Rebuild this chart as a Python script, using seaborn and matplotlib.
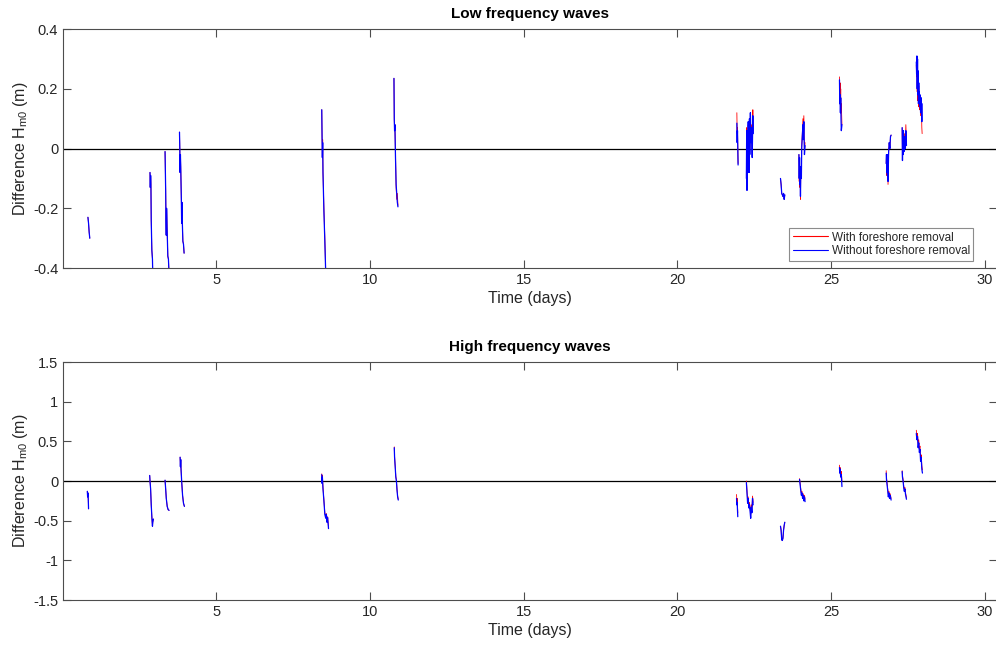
import numpy as np
import pandas as pd
import matplotlib
matplotlib.use("Agg")
import matplotlib.pyplot as plt
from matplotlib.lines import Line2D
import seaborn as sns

# ---------------------------------------------------------------- data
# Each inner list is one measurement burst (time in days, difference in m).
lf_time = [
    [0.82, 0.84, 0.86, 0.88],
    [2.84, 2.85, 2.86, 2.87, 2.88, 2.90, 2.92, 2.93],
    [3.33, 3.35, 3.36, 3.37, 3.38, 3.40, 3.42, 3.44, 3.46],
    [3.80, 3.81, 3.82, 3.83, 3.84, 3.86, 3.87, 3.88, 3.89, 3.91, 3.93, 3.95],
    [8.43, 8.44, 8.45, 8.46, 8.47, 8.50, 8.53, 8.56],
    [10.78, 10.79, 10.80, 10.81, 10.83, 10.85, 10.87, 10.89, 10.91],
    [21.94, 21.95, 21.96, 21.98],
    [22.25, 22.26, 22.27, 22.28, 22.29, 22.30, 22.31, 22.32, 22.33, 22.34,
     22.35, 22.36, 22.38, 22.40, 22.42, 22.44, 22.46, 22.47],
    [23.36, 23.38, 23.40, 23.42, 23.44, 23.46, 23.48, 23.50],
    [23.96, 23.97, 23.98, 23.99, 24.00, 24.01, 24.02, 24.04, 24.05, 24.07,
     24.09, 24.10, 24.12, 24.14, 24.16],
    [25.28, 25.29, 25.30, 25.31, 25.32, 25.33, 25.34, 25.36],
    [26.80, 26.81, 26.82, 26.83, 26.84, 26.85, 26.86, 26.88, 26.90, 26.92,
     26.94, 26.96],
    [27.32, 27.33, 27.34, 27.35, 27.36, 27.38, 27.40, 27.42, 27.44, 27.46],
    [27.78, 27.79, 27.80, 27.81, 27.82, 27.83, 27.84, 27.85, 27.86, 27.87,
     27.88, 27.89, 27.90, 27.92, 27.94, 27.96, 27.97],
]
lf_with = [
    [-0.23, -0.25, -0.28, -0.30],
    [-0.08, -0.13, -0.09, -0.12, -0.24, -0.34, -0.37, -0.42],
    [-0.01, -0.14, -0.24, -0.29, -0.20, -0.28, -0.36, -0.37, -0.42],
    [0.055, 0.0, -0.08, -0.02, -0.06, -0.17, -0.25, -0.18, -0.24, -0.31, -0.32, -0.35],
    [0.13, 0.04, -0.03, 0.03, -0.08, -0.20, -0.30, -0.42],
    [0.235, 0.10, 0.06, 0.08, -0.02, -0.13, -0.17, -0.15, -0.19],
    [0.12, 0.05, 0.07, -0.05],
    [-0.09, 0.07, -0.12, -0.01, 0.03, -0.07, 0.08, -0.04, 0.04, -0.06,
     0.09, 0.0, 0.11, 0.03, 0.08, -0.02, 0.13, 0.06],
    [-0.10, -0.12, -0.15, -0.155, -0.16, -0.15, -0.17, -0.155],
    [-0.02, -0.11, -0.03, -0.13, -0.07, -0.17, -0.09, -0.10, 0.01, 0.05,
     0.10, 0.04, 0.11, -0.01, 0.02],
    [0.24, 0.16, 0.22, 0.14, 0.20, 0.12, 0.15, 0.08],
    [-0.05, -0.02, -0.09, -0.03, -0.10, -0.02, -0.12, -0.01, 0.02, 0.0, 0.04, 0.045],
    [0.07, -0.04, 0.04, -0.01, 0.06, 0.0, 0.05, 0.01, 0.08, 0.02],
    [0.28, 0.24, 0.30, 0.19, 0.29, 0.16, 0.25, 0.14, 0.21, 0.14,
     0.17, 0.13, 0.16, 0.11, 0.16, 0.07, 0.05],
]
lf_without = [
    [-0.23, -0.25, -0.28, -0.30],
    [-0.08, -0.13, -0.09, -0.12, -0.24, -0.34, -0.37, -0.42],
    [-0.01, -0.14, -0.24, -0.29, -0.20, -0.28, -0.36, -0.37, -0.42],
    [0.055, 0.0, -0.08, -0.02, -0.06, -0.17, -0.25, -0.18, -0.24, -0.31, -0.32, -0.35],
    [0.13, 0.04, -0.03, 0.02, -0.08, -0.21, -0.31, -0.42],
    [0.235, 0.10, 0.06, 0.08, -0.03, -0.12, -0.15, -0.18, -0.195],
    [0.085, 0.02, 0.06, -0.055],
    [-0.10, 0.06, -0.14, -0.02, 0.02, -0.08, 0.09, -0.05, 0.03, -0.08,
     0.10, -0.02, 0.12, 0.02, 0.07, -0.03, 0.11, 0.05],
    [-0.10, -0.12, -0.15, -0.155, -0.16, -0.15, -0.17, -0.155],
    [-0.02, -0.10, -0.03, -0.12, -0.06, -0.16, -0.08, -0.10, 0.00, 0.04,
     0.08, 0.03, 0.09, -0.02, 0.01],
    [0.23, 0.15, 0.18, 0.12, 0.17, 0.10, 0.06, 0.08],
    [-0.05, -0.02, -0.08, -0.03, -0.09, -0.02, -0.11, -0.01, 0.02, 0.0, 0.04, 0.045],
    [0.07, -0.04, 0.03, -0.02, 0.06, -0.01, 0.04, 0.0, 0.06, 0.01],
    [0.29, 0.25, 0.31, 0.20, 0.30, 0.18, 0.26, 0.15, 0.22, 0.16,
     0.19, 0.14, 0.18, 0.12, 0.17, 0.09, 0.15],
]

hf_time = [
    [0.80, 0.81, 0.82, 0.83, 0.84],
    [2.83, 2.84, 2.86, 2.88, 2.90, 2.92, 2.93, 2.95],
    [3.33, 3.35, 3.37, 3.40, 3.43, 3.46],
    [3.82, 3.83, 3.84, 3.85, 3.87, 3.90, 3.93, 3.96],
    [8.43, 8.44, 8.45, 8.47, 8.50, 8.53, 8.56, 8.58, 8.60, 8.62, 8.65],
    [10.79, 10.80, 10.82, 10.84, 10.86, 10.88, 10.90, 10.92],
    [21.93, 21.94, 21.95, 21.97],
    [22.25, 22.27, 22.29, 22.31, 22.33, 22.35, 22.37, 22.39, 22.41, 22.43, 22.45, 22.47],
    [23.36, 23.38, 23.40, 23.42, 23.44, 23.46, 23.48, 23.50],
    [23.98, 24.00, 24.02, 24.04, 24.06, 24.08, 24.10, 24.12, 24.14, 24.16],
    [25.28, 25.29, 25.30, 25.32, 25.34, 25.36],
    [26.80, 26.81, 26.83, 26.85, 26.87, 26.89, 26.91, 26.93, 26.96],
    [27.32, 27.33, 27.35, 27.37, 27.39, 27.41, 27.43, 27.46],
    [27.78, 27.80, 27.82, 27.84, 27.86, 27.88, 27.90, 27.92, 27.94, 27.96, 27.98],
]
hf_with = [
    [-0.13, -0.20, -0.15, -0.22, -0.35],
    [0.07, 0.0, -0.10, -0.30, -0.45, -0.57, -0.52, -0.48],
    [0.01, -0.10, -0.22, -0.32, -0.36, -0.37],
    [0.30, 0.18, 0.27, 0.15, 0.0, -0.18, -0.28, -0.32],
    [0.09, -0.02, 0.07, -0.08, -0.24, -0.40, -0.45, -0.41, -0.50, -0.45, -0.58],
    [0.43, 0.31, 0.19, 0.06, 0.01, -0.10, -0.19, -0.23],
    [-0.17, -0.27, -0.22, -0.40],
    [0.0, -0.12, -0.25, -0.20, -0.30, -0.27, -0.34, -0.43, -0.30, -0.36, -0.19, -0.27],
    [-0.57, -0.62, -0.74, -0.75, -0.72, -0.62, -0.56, -0.52],
    [0.03, -0.03, -0.10, -0.16, -0.13, -0.20, -0.16, -0.22, -0.18, -0.23],
    [0.20, 0.12, 0.17, 0.09, 0.12, 0.0],
    [0.13, 0.04, -0.03, -0.10, -0.17, -0.13, -0.19, -0.16, -0.22],
    [0.13, 0.07, 0.02, -0.06, -0.11, -0.08, -0.15, -0.21],
    [0.64, 0.56, 0.60, 0.46, 0.52, 0.40, 0.44, 0.29, 0.33, 0.19, 0.14],
]
hf_without = [
    [-0.13, -0.20, -0.15, -0.22, -0.35],
    [0.07, 0.0, -0.10, -0.30, -0.45, -0.57, -0.52, -0.48],
    [0.01, -0.10, -0.22, -0.32, -0.36, -0.37],
    [0.30, 0.18, 0.27, 0.15, 0.0, -0.18, -0.28, -0.32],
    [0.08, -0.03, 0.05, -0.10, -0.25, -0.42, -0.47, -0.42, -0.52, -0.46, -0.60],
    [0.42, 0.30, 0.18, 0.05, 0.0, -0.12, -0.20, -0.24],
    [-0.22, -0.30, -0.27, -0.45],
    [-0.02, -0.15, -0.28, -0.22, -0.34, -0.30, -0.38, -0.47, -0.33, -0.40, -0.22, -0.30],
    [-0.57, -0.62, -0.74, -0.75, -0.72, -0.62, -0.56, -0.52],
    [0.02, -0.05, -0.12, -0.18, -0.15, -0.22, -0.18, -0.25, -0.20, -0.26],
    [0.17, 0.10, 0.15, 0.05, 0.08, -0.07],
    [0.10, 0.02, -0.05, -0.12, -0.20, -0.15, -0.22, -0.18, -0.24],
    [0.12, 0.05, 0.0, -0.08, -0.13, -0.10, -0.17, -0.23],
    [0.60, 0.52, 0.56, 0.42, 0.48, 0.36, 0.40, 0.25, 0.30, 0.15, 0.10],
]

series_names = ["With foreshore removal", "Without foreshore removal"]
series_colors = {"With foreshore removal": "#ff0000",
                 "Without foreshore removal": "#0000ff"}
series_widths = {"With foreshore removal": 0.6,
                 "Without foreshore removal": 0.9}

x_ticks = [5, 10, 15, 20, 25, 30]
lf_yticks = [-0.4, -0.2, 0, 0.2, 0.4]
hf_yticks = [-1.5, -1, -0.5, 0, 0.5, 1, 1.5]


def long_table(times, with_vals, without_vals):
    rows = []
    for b, (tt, vw, vo) in enumerate(zip(times, with_vals, without_vals)):
        for t, a, c in zip(tt, vw, vo):
            rows.append((t, a, series_names[0], b))
            rows.append((t, c, series_names[1], b))
    return pd.DataFrame(rows, columns=["time", "diff", "series", "burst"])


lf_df = long_table(lf_time, lf_with, lf_without)
hf_df = long_table(hf_time, hf_with, hf_without)

# ---------------------------------------------------------------- style
sns.set_theme(style="white")
plt.rcParams["font.family"] = ["Liberation Sans", "DejaVu Sans"]
plt.rcParams["mathtext.fontset"] = "custom"
plt.rcParams["mathtext.rm"] = "Liberation Sans"
plt.rcParams["mathtext.it"] = "Liberation Sans:italic"

fig = plt.figure(figsize=(9.96, 6.46), dpi=100)
ax_lf = fig.add_axes([0.0633, 0.585, 0.9375, 0.370])
ax_hf = fig.add_axes([0.0633, 0.0712, 0.9375, 0.3684])

text_col = "#262626"
spine_col = "#4d4d4d"


def draw_panel(ax, df, title, yticks, ylim, yfmt):
    # red series first, blue drawn over it
    for name in series_names:
        sub = df[df["series"] == name]
        sns.lineplot(data=sub, x="time", y="diff", units="burst",
                     estimator=None, sort=False, color=series_colors[name],
                     linewidth=series_widths[name], legend=False, ax=ax)
    ax.axhline(0, color="black", linewidth=0.9, zorder=1)
    ax.set_xlim(0.01, 30.4)
    ax.set_ylim(*ylim)
    ax.set_xticks(x_ticks)
    ax.set_xticklabels([str(v) for v in x_ticks])
    ax.set_yticks(yticks)
    ax.set_yticklabels([yfmt(v) for v in yticks])
    ax.tick_params(direction="in", length=6, width=0.8, colors=spine_col,
                   labelcolor=text_col, labelsize=10.5,
                   top=True, right=True, bottom=True, left=True)
    for s in ax.spines.values():
        s.set_visible(True)
        s.set_color(spine_col)
        s.set_linewidth(0.8)
    ax.set_xlabel("Time (days)", fontsize=11.5, color=text_col, labelpad=3)
    ax.set_ylabel(r"Difference H$_{\mathrm{m0}}$ (m)", fontsize=11.5,
                  color=text_col, labelpad=2)
    ax.set_title(title, fontsize=11, fontweight="bold", color="black", pad=8)


def fmt_lf(v):
    return "0" if v == 0 else f"{v:.1f}"


def fmt_hf(v):
    if v == 0:
        return "0"
    return f"{v:g}"


draw_panel(ax_lf, lf_df, "Low frequency waves", lf_yticks, (-0.4, 0.4), fmt_lf)
draw_panel(ax_hf, hf_df, "High frequency waves", hf_yticks, (-1.5, 1.5), fmt_hf)

handles = [Line2D([], [], color=series_colors[n], linewidth=0.8) for n in series_names]
leg = ax_lf.legend(handles, series_names, loc="lower right",
                   bbox_to_anchor=(0.975, 0.03), fontsize=8.5, frameon=True,
                   fancybox=False, edgecolor="#8c8c8c", framealpha=1,
                   handlelength=3.0, handletextpad=0.3, borderpad=0.3,
                   labelspacing=0.15, borderaxespad=0.0)
leg.get_frame().set_linewidth(0.8)

fig.savefig("out.png", dpi=100)
